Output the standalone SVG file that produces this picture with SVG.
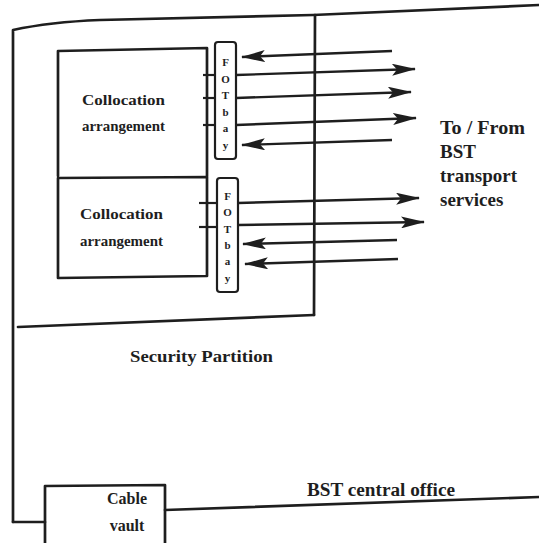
<svg xmlns="http://www.w3.org/2000/svg" width="539" height="543" viewBox="0 0 539 543">
<style>
.ln{fill:none;stroke:#1e1e1e;stroke-width:2.7;stroke-linecap:round;stroke-linejoin:round}
.ar{fill:none;stroke:#1e1e1e;stroke-width:2.4;marker-end:url(#ah)}
.tk{stroke:#1e1e1e;stroke-width:2.2}
.t{font-family:"Liberation Serif","DejaVu Serif",serif;font-weight:bold;fill:#1e1e1e}
.fot{font-family:"Liberation Serif","DejaVu Serif",serif;font-weight:bold;font-size:11px;fill:#1e1e1e;text-anchor:middle}
</style>
<defs>
<marker id="ah" viewBox="0 0 24 12" refX="23" refY="6" markerWidth="24" markerHeight="12" orient="auto" markerUnits="userSpaceOnUse">
<path d="M0,0 L24,6 L0,12 L5,6 z" fill="#1e1e1e"/>
</marker>
</defs>
<rect width="539" height="543" fill="#fff"/>
<g id="office">
<path class="ln" d="M13,522 L13,30 Q50,22 100,20 L313,15 L539,5"/>
<path class="ln" d="M13,522 L45,522"/>
<path class="ln" d="M165,510 L539,497"/>
<text class="t" x="307" y="496" font-size="18" textLength="148" lengthAdjust="spacingAndGlyphs">BST central office</text>
</g>
<g id="partition">
<path class="ln" d="M315,15 L314,315"/>
<path class="ln" d="M18,327 L314,315"/>
<text class="t" x="130" y="362" font-size="16.5" textLength="143" lengthAdjust="spacingAndGlyphs">Security Partition</text>
</g>
<g id="cable-vault">
<path class="ln" d="M45,543 L45,486 L165,485 L165,543"/>
<text class="t" x="127" y="504" font-size="16" text-anchor="middle">Cable</text>
<text class="t" x="127" y="531" font-size="16" text-anchor="middle">vault</text>
</g>
<g id="collocation-1">
<path class="ln" d="M58,176 L58,51 L207,48 L207,176"/>
<text class="t" x="82" y="105" font-size="15" textLength="83" lengthAdjust="spacingAndGlyphs">Collocation</text>
<text class="t" x="82" y="131" font-size="15" textLength="83" lengthAdjust="spacingAndGlyphs">arrangement</text>
</g>
<g id="collocation-2">
<path class="ln" d="M58,178 L207,177 L207,276 L58,278 Z"/>
<text class="t" x="80" y="219" font-size="15" textLength="83" lengthAdjust="spacingAndGlyphs">Collocation</text>
<text class="t" x="80" y="246" font-size="15" textLength="83" lengthAdjust="spacingAndGlyphs">arrangement</text>
</g>
<g id="fot-bay-1">
<rect x="215" y="42" width="21" height="117" rx="3" fill="#fff" stroke="#1e1e1e" stroke-width="2.2"/>
<text class="fot" x="225.5" y="66">F</text>
<text class="fot" x="225.5" y="83">O</text>
<text class="fot" x="225.5" y="99">T</text>
<text class="fot" x="225.5" y="116">b</text>
<text class="fot" x="225.5" y="132">a</text>
<text class="fot" x="225.5" y="149">y</text>
</g>
<g id="fot-bay-2">
<rect x="217" y="178" width="21" height="114" rx="3" fill="#fff" stroke="#1e1e1e" stroke-width="2.2"/>
<text class="fot" x="227.5" y="200">F</text>
<text class="fot" x="227.5" y="216">O</text>
<text class="fot" x="227.5" y="233">T</text>
<text class="fot" x="227.5" y="249">b</text>
<text class="fot" x="227.5" y="265">a</text>
<text class="fot" x="227.5" y="282">y</text>
</g>
<g id="transport">
<text class="t" x="440" y="134" font-size="19" textLength="85" lengthAdjust="spacingAndGlyphs">To / From</text>
<text class="t" x="440" y="158" font-size="19">BST</text>
<text class="t" x="440" y="182" font-size="19">transport</text>
<text class="t" x="440" y="206" font-size="19">services</text>
</g>
<g id="connectors">
<line class="tk" x1="203" y1="75" x2="215" y2="75"/>
<line class="tk" x1="203" y1="98" x2="215" y2="98"/>
<line class="tk" x1="203" y1="125" x2="215" y2="125"/>
<line class="tk" x1="199" y1="203" x2="217" y2="203"/>
<line class="tk" x1="199" y1="227" x2="217" y2="227"/>
<path class="ar" d="M392,51 L242,57"/>
<path class="ar" d="M236,75 L415,69"/>
<path class="ar" d="M236,98 L411,92"/>
<path class="ar" d="M236,125 L416,118"/>
<path class="ar" d="M392,140 L242,145"/>
<path class="ar" d="M238,203 L419,198"/>
<path class="ar" d="M238,225 L424,222"/>
<path class="ar" d="M397,240 L243,244"/>
<path class="ar" d="M398,259 L245,264"/>
</g>
</svg>
